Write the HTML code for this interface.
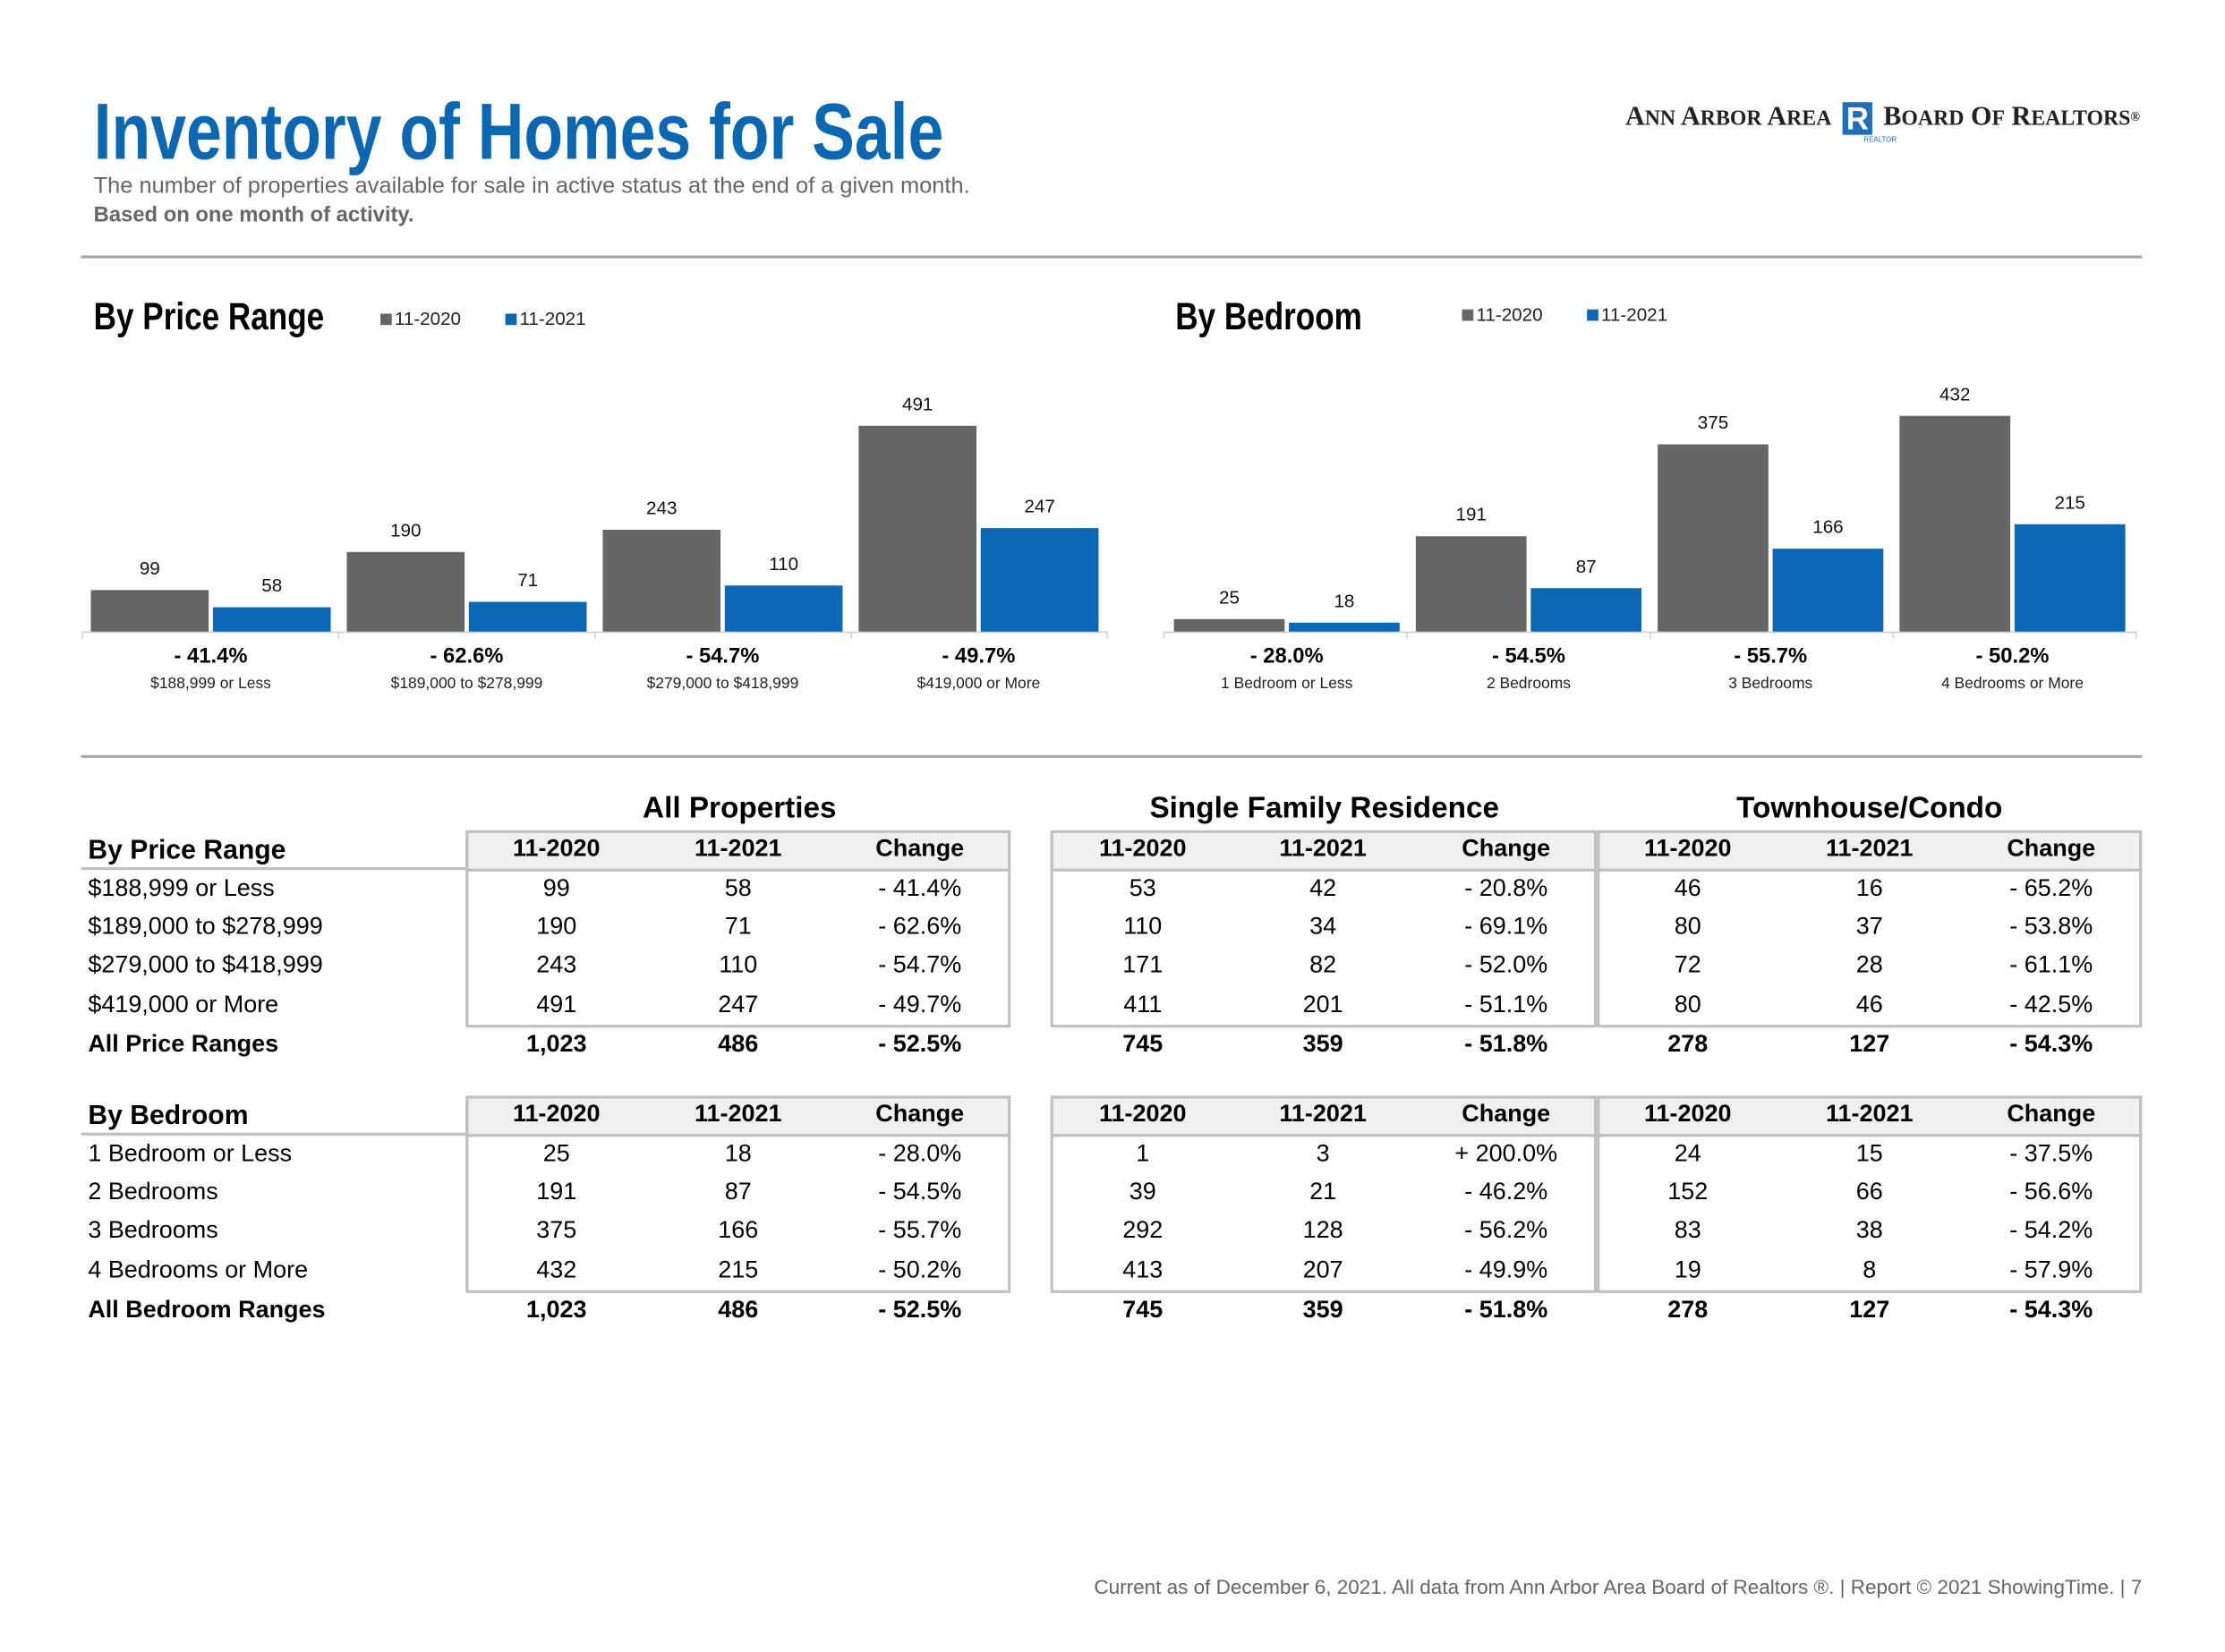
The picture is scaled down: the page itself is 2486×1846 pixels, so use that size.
<!DOCTYPE html>
<html><head><meta charset="utf-8">
<style>
html,body{margin:0;padding:0;background:#fff;}
body{width:2486px;height:1845px;overflow:hidden;position:relative;}
#page{position:absolute;left:0;top:0;width:1568px;height:1164px;transform:scale(1.586);transform-origin:0 0;font-family:"Liberation Sans",sans-serif;color:#000;}
.abs{position:absolute;white-space:nowrap;}
.cond{display:inline-block;transform-origin:0 50%;}
.hr{position:absolute;height:2px;background:#a6a6a6;}
svg text{font-family:"Liberation Sans",sans-serif;}
.box{position:absolute;border:2px solid #c0c0c0;box-sizing:border-box;}
.hdrfill{position:absolute;background:#f0f0f0;border-bottom:2px solid #c0c0c0;box-sizing:border-box;}
.c{position:absolute;transform:translateX(-50%);white-space:nowrap;font-size:17px;}
.b{font-weight:bold;}
</style></head><body>
<div id="page">
  <div class="abs" style="left:66px;top:60px;font-size:56px;font-weight:bold;color:#0b67b2;"><span class="cond" style="transform:scaleX(0.805);">Inventory of Homes for Sale</span></div>
  <div class="abs" style="left:66px;top:123px;font-size:16px;color:#666;">The number of properties available for sale in active status at the end of a given month.</div>
  <div class="abs" style="left:66px;top:143px;font-size:15px;font-weight:bold;color:#666;">Based on one month of activity.</div>

  <div class="abs" style="left:1145px;top:72px;font-family:'Liberation Serif',serif;font-size:19px;font-weight:bold;color:#222;">
    <span>A<span style="font-size:15px">NN</span> A<span style="font-size:15px">RBOR</span> A<span style="font-size:15px">REA</span></span>
    <span style="display:inline-block;width:21px;height:23px;background:#1f6fb8;color:#fff;text-align:center;line-height:23px;font-family:'Liberation Sans',sans-serif;font-size:22px;vertical-align:-3px;margin:0 3px;">R</span>
    <span>B<span style="font-size:15px">OARD</span> O<span style="font-size:15px">F</span> R<span style="font-size:15px">EALTORS</span><span style="font-size:9px;vertical-align:3px">®</span></span>
  </div>
  <div class="abs" style="left:1313px;top:96px;font-size:5px;color:#1f6fb8;">REALTOR</div>

  <div class="hr" style="left:57px;top:180px;width:1452px;"></div>
  <div class="hr" style="left:57px;top:532px;width:1452px;"></div>

  <svg id="charts" style="position:absolute;left:0;top:0" width="1552" height="520"></svg>

  <div id="tables"></div>

  <div class="abs" style="right:59px;top:1111px;font-size:14.2px;color:#666;">Current as of December 6, 2021. All data from Ann Arbor Area Board of Realtors ®.  |  Report © 2021 ShowingTime.  |  7</div>
</div>
<script>
const priceCats = ["$188,999 or Less","$189,000 to $278,999","$279,000 to $418,999","$419,000 or More"];
const price2020 = [99,190,243,491];
const price2021 = [58,71,110,247];
const priceChg = ["- 41.4%","- 62.6%","- 54.7%","- 49.7%"];
const bedCats = ["1 Bedroom or Less","2 Bedrooms","3 Bedrooms","4 Bedrooms or More"];
const bed2020 = [25,191,375,432];
const bed2021 = [18,87,166,215];
const bedChg = ["- 28.0%","- 54.5%","- 55.7%","- 50.2%"];

const NS="http://www.w3.org/2000/svg";
const svg=document.getElementById('charts');
function mk(tag,attrs,text){const e=document.createElementNS(NS,tag);for(const k in attrs)e.setAttribute(k,attrs[k]);if(text!==undefined)e.textContent=text;svg.appendChild(e);return e;}

function drawChart(o){
  const t=mk('text',{x:o.titleX,y:232,'font-size':27,'font-weight':'bold',transform:`translate(${o.titleX},0) scale(0.82,1) translate(${-o.titleX},0)`},o.title);
  
  
  [["11-2020","#666"],["11-2021","#0a68b4"]].forEach((l,i)=>{
    const lx=o.legX+i*88;
    const r=mk('rect',{x:lx,y:o.legY-8,width:8,height:8,fill:l[1]});
    
    
    const tx=mk('text',{x:lx+10,y:o.legY,'font-size':13,fill:'#222'},l[0]);
    
    
  });
  const base=445;
  const y=v=>base-v*o.k;
  const ax=mk('line',{x1:o.axL,x2:o.axR,y1:base+0.5,y2:base+0.5,stroke:'#d0d0d0','stroke-width':1});
  
  
  for(let i=0;i<=o.cats.length;i++){
    const tx=o.axL+i*(o.axR-o.axL)/o.cats.length;
    const tk=mk('line',{x1:tx,x2:tx,y1:base,y2:base+5,stroke:'#d0d0d0'});
    
    
  }
  o.cats.forEach((c,i)=>{
    const gx=o.x0+i*o.gw;
    [[o.a,'#666',0],[o.b,'#0a68b4',o.bw+o.gap]].forEach((s,j)=>{
      const v=s[0][i];
      const r=mk('rect',{x:gx+s[2],y:y(v),width:o.bw,height:v*o.k,fill:s[1]});
      
      
      const lb=mk('text',{x:gx+s[2]+o.bw/2,y:y(v)-11,'font-size':13,'text-anchor':'middle',fill:'#111'},v);
      
      
    });
    const cx=gx+o.bw+o.gap/2;
    const p=mk('text',{x:cx,y:467,'font-size':15,'font-weight':'bold','text-anchor':'middle'},o.chg[i]);
    
    
    const cl=mk('text',{x:cx,y:485,'font-size':11,'text-anchor':'middle',fill:'#222'},c);
    
    
  });
}
drawChart({key:'price',title:'By Price Range',titleX:66,legX:268,legY:229,cats:priceCats,a:price2020,b:price2021,chg:priceChg,x0:64,gw:180.3,bw:83,gap:3,k:145/491,axL:58,axR:780});
drawChart({key:'bedroom',title:'By Bedroom',titleX:828,legX:1030,legY:226,cats:bedCats,a:bed2020,b:bed2021,chg:bedChg,x0:827,gw:170.4,bw:78,gap:3,k:152/432,axL:820,axR:1505});

const hdrPrice=["By Price Range"].concat(priceCats,["All Price Ranges"]);
const allP=[["99","58","- 41.4%"],["190","71","- 62.6%"],["243","110","- 54.7%"],["491","247","- 49.7%"],["1,023","486","- 52.5%"]];
const sfrP=[["53","42","- 20.8%"],["110","34","- 69.1%"],["171","82","- 52.0%"],["411","201","- 51.1%"],["745","359","- 51.8%"]];
const tcP=[["46","16","- 65.2%"],["80","37","- 53.8%"],["72","28","- 61.1%"],["80","46","- 42.5%"],["278","127","- 54.3%"]];
const hdrBed=["By Bedroom"].concat(bedCats,["All Bedroom Ranges"]);
const allB=[["25","18","- 28.0%"],["191","87","- 54.5%"],["375","166","- 55.7%"],["432","215","- 50.2%"],["1,023","486","- 52.5%"]];
const sfrB=[["1","3","+ 200.0%"],["39","21","- 46.2%"],["292","128","- 56.2%"],["413","207","- 49.9%"],["745","359","- 51.8%"]];
const tcB=[["24","15","- 37.5%"],["152","66","- 56.6%"],["83","38","- 54.2%"],["19","8","- 57.9%"],["278","127","- 54.3%"]];

const T=document.getElementById('tables');
function div(cls,style,text,name,inter){const d=document.createElement('div');d.className=cls;d.style.cssText=style;if(text!==undefined)d.textContent=text;


T.appendChild(d);return d;}
const groups=[{x:328,w:384,cols:[392,520,648]},{x:740,w:385,cols:[805,932,1061]},{x:1125,w:384,cols:[1189,1317,1445]}];
[["All Properties",521],["Single Family Residence",933],["Townhouse/Condo",1317]].forEach((g,i)=>div('c b','left:'+g[1]+'px;top:558px;font-size:21px;',g[0],'group-title-'+i));
function table(top,labels,sets,key){
  const rowY=[0,28,55,82,110,138];
  div('abs','left:57px;top:'+(top+26)+'px;width:271px;height:2px;background:#c0c0c0;',undefined,key+'-header-rule');
  groups.forEach((g,gi)=>{
    div('hdrfill','left:'+g.x+'px;top:'+top+'px;width:'+g.w+'px;height:29px;',undefined,key+'-header-fill-'+gi);
    div('box','left:'+g.x+'px;top:'+top+'px;width:'+g.w+'px;height:139px;',undefined,key+'-box-'+gi);
    ["11-2020","11-2021","Change"].forEach((h,hi)=>div('c b','left:'+g.cols[hi]+'px;top:'+(top+3)+'px;',h,key+'-col-header'));
    sets[gi].forEach((row,ri)=>row.forEach((v,ci)=>div('c'+(ri==4?' b':''),'left:'+g.cols[ci]+'px;top:'+(top+3+rowY[ri+1])+'px;',v,key+'-cell')));
  });
  labels.forEach((l,i)=>div('abs'+((i==0||i==5)?' b':''),'left:62px;top:'+(top+(i==0?4:3)+rowY[i])+'px;font-size:'+(i==0?19:17)+'px;',l,key+'-row-label-'+i));
}
table(585,hdrPrice,[allP,sfrP,tcP],'price-table');
table(772,hdrBed,[allB,sfrB,tcB],'bedroom-table');
</script>
</body></html>
